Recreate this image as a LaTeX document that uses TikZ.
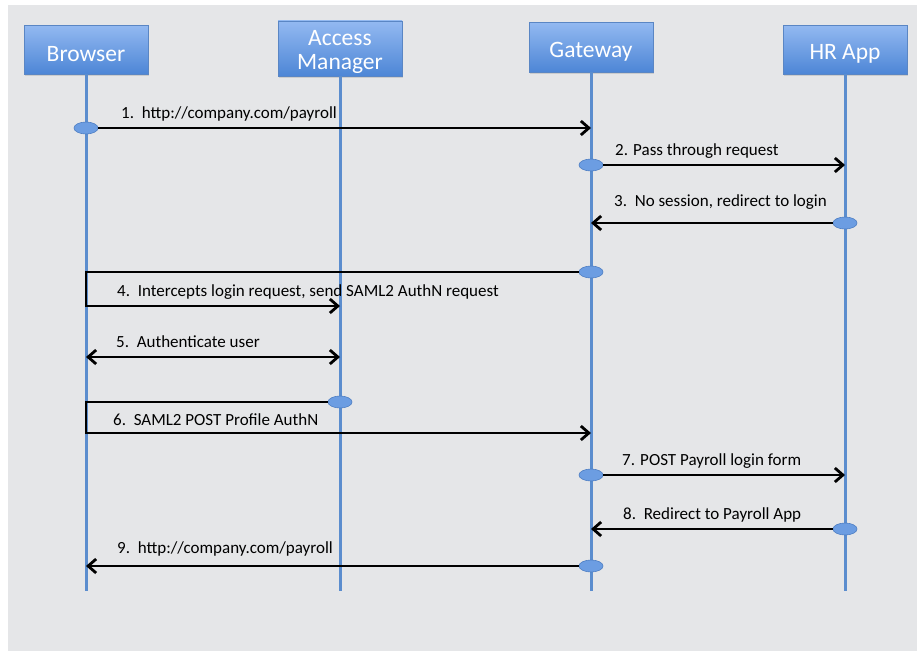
\documentclass[tikz,border=0pt]{standalone}
\usepackage{fontspec}
\setmainfont{Carlito}
\usetikzlibrary{arrows.meta,shapes.geometric,shadows}
\definecolor{canvas}{HTML}{E5E6E8}
\definecolor{boxtop}{HTML}{93B9F1}
\definecolor{boxbot}{HTML}{4D86D6}
\definecolor{boxline}{HTML}{5A86C4}
\definecolor{lifeblue}{HTML}{5B8DCE}
\definecolor{dotfill}{HTML}{6C9DE2}
\definecolor{dotline}{HTML}{4C7DC2}

\begin{document}
\begin{tikzpicture}[x=1pt,y=-1pt,
actor/.style={draw=boxline,line width=.8pt,top color=boxtop,bottom color=boxbot,text=white,minimum width=124pt,minimum height=#1,align=center,inner sep=2pt,text height=24pt,font=\fontsize{23.5}{24}\selectfont,drop shadow={opacity=.25,shadow xshift=1pt,shadow yshift=-1.5pt}},
actor/.default=50pt,
life/.style={draw=lifeblue,line width=3pt},
dot/.style={ellipse,draw=dotline,fill=dotfill,line width=.6pt,minimum width=24pt,minimum height=12pt,inner sep=0pt},
msg/.style={-{Straight Barb[length=8pt,width=14pt]},line width=2.8pt,draw=black},
twoway/.style={{Straight Barb[length=8pt,width=14pt]}-{Straight Barb[length=8pt,width=14pt]},line width=2.8pt,draw=black},
lbl/.style={anchor=west,inner sep=0pt,font=\fontsize{17}{20}\selectfont}]
\useasboundingbox (0,0) rectangle (917,651);
\fill[canvas] (8,5) rectangle (917,651);
% participants
\node[actor=49pt] (browser) at (86,49.5) {Browser};
\node[actor=53pt,text height=47pt] (access) at (340,48.5) {Access\\Manager};
\node[actor=50pt] (gateway) at (591,47) {Gateway};
\node[actor=49pt] (hrapp) at (845,49.5) {HR App};
\foreach \who in {browser,access,gateway,hrapp}
  \draw[life] (\who.south) -- (\who |- 0,591);
% message starts
\node[dot] (m1) at (86,128) {};
\node[dot] (m2) at (591,165) {};
\node[dot] (m3) at (845,223) {};
\node[dot] (m4) at (591,272) {};
\node[dot] (m6) at (340,402) {};
\node[dot] (m7) at (591,475) {};
\node[dot] (m8) at (845,529) {};
\node[dot] (m9) at (591,566) {};
\coordinate (m4b) at (86,306);
\coordinate (m5) at (86,357);
\coordinate (m6b) at (86,433);
% messages
\draw[msg] (m1) -- (gateway |- m1);
\draw[msg] (m2) -- (hrapp |- m2);
\draw[msg] (m3) -- (gateway |- m3);
\draw[msg] (m4) -| (m4b) -- (access |- m4b);
\draw[twoway] (m5) -- (access |- m5);
\draw[msg] (m6) -| (m6b) -- (gateway |- m6b);
\draw[msg] (m7) -- (hrapp |- m7);
\draw[msg] (m8) -- (gateway |- m8);
\draw[msg] (m9) -- (browser |- m9);
% labels
\node[lbl] (l1) at (121,114) {1.\ \ http://company.com/payroll};
\node[lbl] (l2) at (615,151) {2. Pass through request};
\node[lbl] (l3) at (614,202) {3.\ \ No session, redirect to login};
\node[lbl] (l4) at (117,292) {4.\ \ Intercepts login request, send SAML2 AuthN request};
\node[lbl] (l5) at (116,342) {5.\ \ Authenticate user};
\node[lbl] (l6) at (113,420) {6.\ \ SAML2 POST Profile AuthN};
\node[lbl] (l7) at (622,461) {7. POST Payroll login form};
\node[lbl] (l8) at (623,515) {8.\ \ Redirect to Payroll App};
\node[lbl] (l9) at (117,549) {9.\ \ http://company.com/payroll};
\end{tikzpicture}
\end{document}
